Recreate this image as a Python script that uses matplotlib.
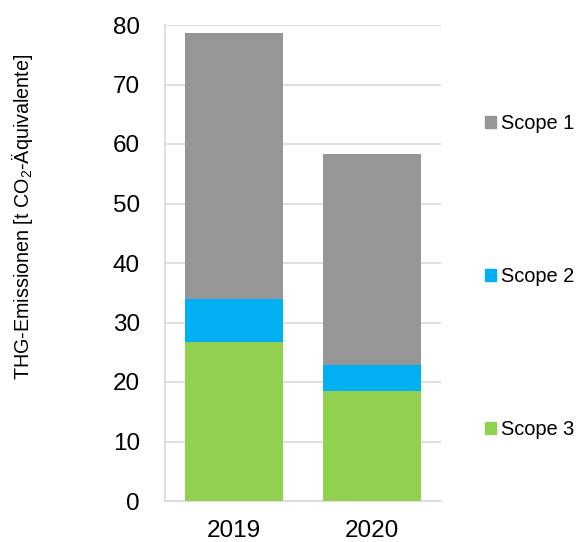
import numpy as np
import matplotlib.pyplot as plt
from matplotlib.patches import Patch

# ---------- DATA ----------
years = ["2019", "2020"]
scope3 = [26.8, 18.5]
scope2 = [7.2, 4.4]
scope1 = [44.7, 35.4]
series_names = ["Scope 1", "Scope 2", "Scope 3"]
yticks = [0, 10, 20, 30, 40, 50, 60, 70, 80]
# --------------------------

COL_S1 = "#969696"
COL_S2 = "#00B0F0"
COL_S3 = "#92D050"

plt.rcParams['font.family'] = ['Liberation Sans', 'DejaVu Sans']
plt.rcParams['mathtext.fontset'] = 'custom'
plt.rcParams['mathtext.rm'] = 'Liberation Sans'
plt.rcParams['mathtext.it'] = 'Liberation Sans'

fig = plt.figure(figsize=(5.76, 5.42), dpi=100)
ax = fig.add_axes([165 / 576, 1 - 501 / 542, 276 / 576, 476 / 542])

x = np.arange(len(years))
w = 0.71
s3 = np.array(scope3)
s2 = np.array(scope2)
s1 = np.array(scope1)
ax.bar(x, s3, w, color=COL_S3, zorder=3)
ax.bar(x, s2, w, bottom=s3, color=COL_S2, zorder=3)
ax.bar(x, s1, w, bottom=s3 + s2, color=COL_S1, zorder=3)

ax.set_xlim(-0.5, 1.5)
ax.set_ylim(0, 80)
ax.set_yticks(yticks)
ax.set_xticks(x)
ax.set_xticklabels(years)
ax.tick_params(axis='both', length=0, labelsize=17.5)
ax.tick_params(axis='x', pad=14)
ax.tick_params(axis='y', pad=18)

ax.grid(axis='y', color='#d9d9d9', linewidth=1.2, zorder=0)
for s in ['top', 'right']:
    ax.spines[s].set_visible(False)
for s in ['left', 'bottom']:
    ax.spines[s].set_color('#d9d9d9')
    ax.spines[s].set_linewidth(1.2)

ax.set_ylabel("THG-Emissionen [t CO$_2$-Äquivalente]", fontsize=14.2)
ax.yaxis.set_label_coords(-0.471, 0.597)

handles = [Patch(color=COL_S1), Patch(color=COL_S2), Patch(color=COL_S3)]
leg = fig.legend(handles, series_names, loc='upper left',
                 bbox_to_anchor=(485 / 576, 1 - 114 / 542),
                 frameon=False, fontsize=14.4, handlelength=0.55,
                 handleheight=0.55, handletextpad=0.25, labelspacing=6.7,
                 borderaxespad=0, borderpad=0)

fig.savefig("out.png", dpi=100)
